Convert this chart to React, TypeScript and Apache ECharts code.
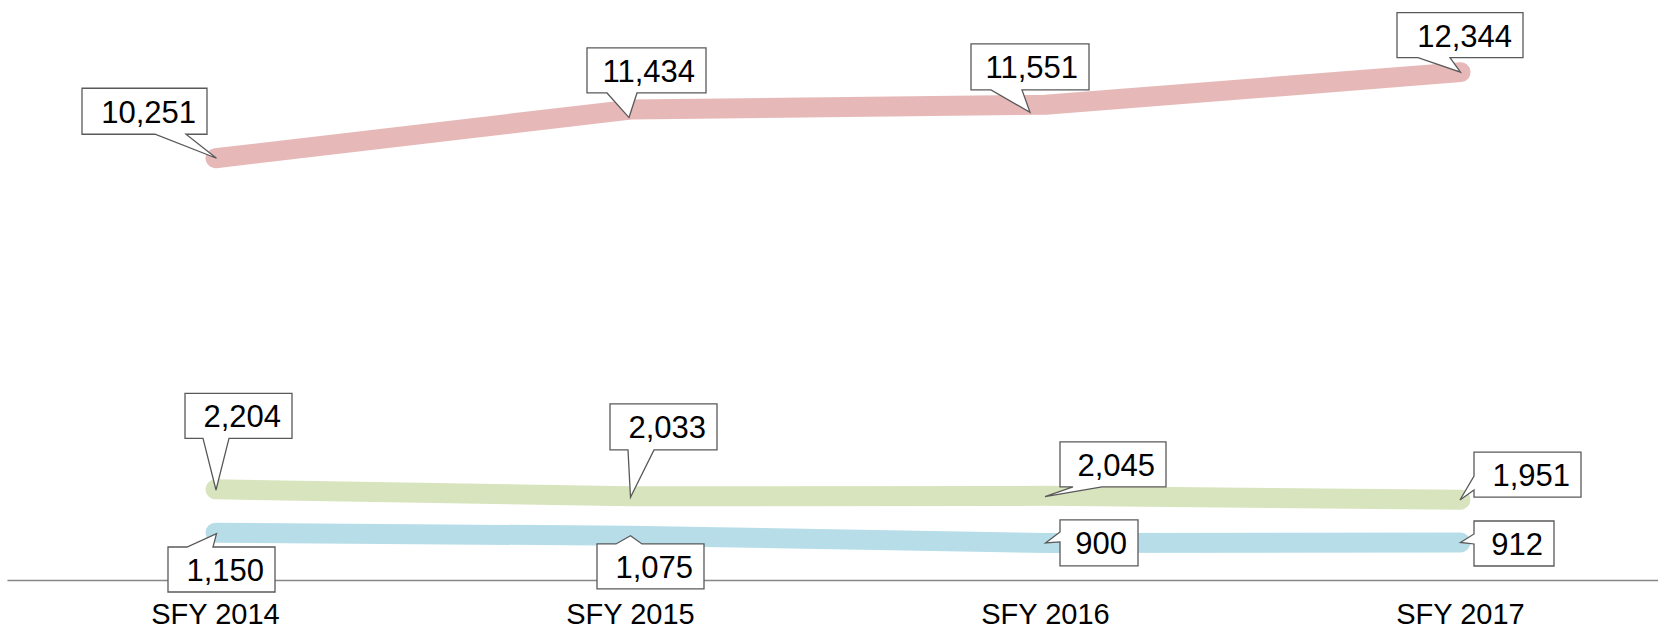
import React, { useEffect, useRef } from "react";
import * as echarts from "echarts";

// ---- data ----
const categories = ["SFY 2014", "SFY 2015", "SFY 2016", "SFY 2017"];
const redValues = [10251, 11434, 11551, 12344];
const greenValues = [2204, 2033, 2045, 1951];
const blueValues = [1150, 1075, 900, 912];

const seriesValues = [redValues, greenValues, blueValues];
const seriesColors = ["#E6B9B8", "#D7E4BD", "#B7DEE8"];

// ---- callout layout (offsets relative to each data point, px) ----
// bx, by: box top-left offset; w, h: box size; side: edge where the tail starts;
// a0, a1: tail base along that edge; tx, ty: tail tip offset from the point
type Callout = { bx: number; by: number; w: number; h: number; side: "top" | "bottom" | "left"; a0: number; a1: number; tx: number; ty: number };
const redCallouts: Callout[] = [
  { bx: -133.5, by: -70, w: 125, h: 46, side: "bottom", a0: 73, a1: 104, tx: 1, ty: 0 },
  { bx: -43.5, by: -61.6, w: 119, h: 45, side: "bottom", a0: 20, a1: 50, tx: -1.5, ty: 8 },
  { bx: -74.5, by: -60.8, w: 118, h: 46, side: "bottom", a0: 20, a1: 51, tx: -15.5, ty: 7.5 },
  { bx: -63.5, by: -59.5, w: 126, h: 45, side: "bottom", a0: 21, a1: 53, tx: 0, ty: 0 },
];
const greenCallouts: Callout[] = [
  { bx: -30.5, by: -96, w: 107, h: 45, side: "bottom", a0: 18, a1: 44, tx: 0.5, ty: 0.7 },
  { bx: -20.5, by: -92.4, w: 107, h: 46, side: "bottom", a0: 18, a1: 44, tx: 0, ty: 1 },
  { bx: 14.5, by: -54, w: 106, h: 45, side: "bottom", a0: 13, a1: 42, tx: -0.5, ty: 0.8 },
  { bx: 13.5, by: -47.7, w: 107, h: 45, side: "left", a0: 24, a1: 38, tx: -0.5, ty: 0.3 },
];
const blueCallouts: Callout[] = [
  { bx: -47.5, by: 14.3, w: 107, h: 45, side: "top", a0: 19, a1: 45, tx: 1, ty: 1 },
  { bx: -33.5, by: 8.2, w: 107, h: 45, side: "top", a0: 19, a1: 45, tx: 0, ty: 0 },
  { bx: 14.5, by: -23, w: 78, h: 46, side: "left", a0: 12, a1: 22, tx: 0, ty: 0 },
  { bx: 13.5, by: -21.5, w: 80, h: 45, side: "left", a0: 13, a1: 23, tx: 0, ty: 0 },
];
const calloutLayouts = [redCallouts, greenCallouts, blueCallouts];

const FONT = "Liberation Sans, Arial, sans-serif";

export default function App() {
  const ref = useRef<HTMLDivElement>(null);

  useEffect(() => {
    if (!ref.current) return;
    const chart = echarts.init(ref.current, undefined, { renderer: "svg" });

    const lineSeries = seriesValues.map((vals, i) => ({
      type: "line",
      data: vals,
      symbol: "none",
      silent: true,
      z: 2,
      lineStyle: { color: seriesColors[i], width: 20, cap: "round", join: "round" },
    }));

    const calloutData: any[] = [];
    seriesValues.forEach((vals, s) => {
      vals.forEach((v, c) => calloutData.push([c, v, s]));
    });

    const calloutSeries = {
      type: "custom",
      clip: false,
      silent: true,
      z: 10,
      data: calloutData,
      renderItem: (params: any, api: any) => {
        const c = api.value(0);
        const v = api.value(1);
        const s = api.value(2);
        const spec = calloutLayouts[s][c];
        const p = api.coord([c, v]);
        const x0 = p[0] + spec.bx;
        const y0 = p[1] + spec.by;
        const x1 = x0 + spec.w;
        const y1 = y0 + spec.h;
        const tip = [p[0] + spec.tx, p[1] + spec.ty];
        let pts: number[][];
        if (spec.side === "bottom") {
          pts = [[x0, y0], [x1, y0], [x1, y1], [x0 + spec.a1, y1], tip, [x0 + spec.a0, y1], [x0, y1]];
        } else if (spec.side === "top") {
          pts = [[x0, y0], [x0 + spec.a0, y0], tip, [x0 + spec.a1, y0], [x1, y0], [x1, y1], [x0, y1]];
        } else {
          pts = [[x0, y0], [x1, y0], [x1, y1], [x0, y1], [x0, y0 + spec.a1], tip, [x0, y0 + spec.a0]];
        }
        return {
          type: "group",
          children: [
            {
              type: "polygon",
              shape: { points: pts },
              style: { fill: "#ffffff", stroke: "#595959", lineWidth: 1.3 },
            },
            {
              type: "text",
              style: {
                text: Number(v).toLocaleString("en-US"),
                x: x1 - 11,
                y: (y0 + y1) / 2 + 1,
                align: "right",
                verticalAlign: "middle",
                fill: "#000000",
                font: `31px ${FONT}`,
              },
            },
          ],
        };
      },
    };

    chart.setOption({
      animation: false,
      grid: { left: 8, right: 0, top: 4, bottom: 49, containLabel: false, outerBoundsMode: "none" },
      xAxis: {
        type: "category",
        data: categories,
        boundaryGap: true,
        axisLine: { show: true, lineStyle: { color: "#868686", width: 1.3 } },
        axisTick: { show: false },
        axisLabel: { color: "#000000", fontSize: 29, fontFamily: FONT, margin: 19 },
        splitLine: { show: false },
      },
      yAxis: {
        type: "value",
        min: 0,
        max: 14000,
        show: false,
        splitLine: { show: false },
      },
      series: [...lineSeries, calloutSeries],
    });

    return () => chart.dispose();
  }, []);

  return (
    <div
      style={{ position: "fixed", left: 0, top: 0, width: 1658, height: 629, overflow: "hidden", background: "#ffffff" }}
    >
      <div ref={ref} style={{ width: 1668, height: 629 }} />
    </div>
  );
}
